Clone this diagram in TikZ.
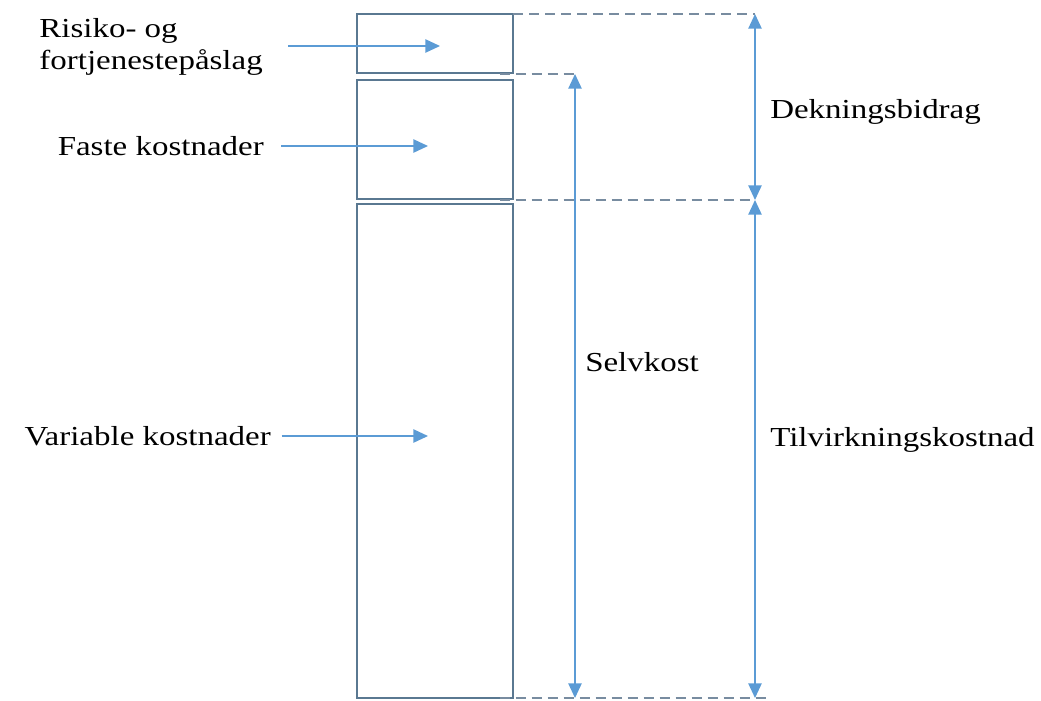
\documentclass[tikz,border=0pt]{standalone}
\usepackage{fontspec}
\setmainfont{Liberation Serif}[FakeStretch=1.2]
\usetikzlibrary{arrows.meta}
\definecolor{boxcol}{RGB}{90,120,145}
\definecolor{dashcol}{RGB}{120,140,160}
\definecolor{pilcol}{RGB}{91,155,213}

\begin{document}
\begin{tikzpicture}[x=0.75pt,y=-0.75pt,
    boks/.style={draw=boxcol,line width=1.1pt,inner sep=0,outer sep=0,minimum width=117pt},
    lbl/.style={font=\fontsize{20.6}{24}\selectfont,inner sep=0},
    pil/.style={draw=pilcol,line width=1.1pt,-{Triangle[length=11pt,width=10pt]}},
    maal/.style={draw=pilcol,line width=1.1pt,{Triangle[length=11pt,width=10pt]}-{Triangle[length=11pt,width=10pt]}},
    hjelp/.style={draw=dashcol,line width=1.1pt,dash pattern=on 7.5pt off 4.5pt}]
        \useasboundingbox (0,0) rectangle (1041,700);
        % \draw[help lines,step=50] (0,0) grid (1041,700);

        % boxes
        \node[boks,minimum height=44.25pt] (risiko) at (435,43.5) {};
        \node[boks,minimum height=89.25pt] (faste) at (435,139.5) {};
        \node[boks,minimum height=370.5pt] (variabel) at (435,451) {};

        % labels left
        \node[lbl,anchor=east,align=left] (risikolbl) at (263,47) {Risiko- og\\fortjenestepåslag};
        \node[lbl,anchor=east] (fastelbl) at (264,146) {Faste kostnader};
        \node[lbl,anchor=east] (variabellbl) at (271,436) {Variable kostnader};

        % arrows into boxes
        \coordinate (risikoinn) at (440,46);
        \coordinate (fasteinn) at (428,146);
        \coordinate (variabelinn) at (428,436);
        \draw[pil] ([xshift=18.75pt]risikolbl.east |- risikoinn) -- (risikoinn);
        \draw[pil] ([xshift=13pt]fastelbl.east) -- (fasteinn);
        \draw[pil] ([xshift=8pt]variabellbl.east) -- (variabelinn);

        % helper lines
        \coordinate (dbtopp) at (755,14);
        \coordinate (dbbunn) at (755,200);
        \coordinate (sktopp) at (575,74);
        \coordinate (skbunn) at (575,698);
        \coordinate (tkbunn) at (755,698);
        \coordinate (bunnslutt) at (770,698);
        \draw[hjelp] (risiko.north east |- dbtopp) -- (dbtopp);
        \draw[hjelp] ([xshift=-10pt]risiko.south east |- sktopp) -- (sktopp);
        \draw[hjelp] ([xshift=-10pt]faste.south east |- dbbunn) -- (dbbunn);
        \draw[hjelp] ([xshift=-10pt]variabel.south east |- bunnslutt) -- (bunnslutt);

        % measures
        \draw[maal] (dbtopp) -- (dbbunn);
        \draw[maal] (sktopp) -- (skbunn);
        \draw[maal] (dbbunn) -- (tkbunn);

        % labels right
        \node[lbl,anchor=west] (db) at (770,112) {Dekningsbidrag};
        \node[lbl,anchor=west] (sk) at (585,362) {Selvkost};
        \node[lbl,anchor=west] (tk) at (770,440) {Tilvirkningskostnad};

      \end{tikzpicture}
\end{document}
